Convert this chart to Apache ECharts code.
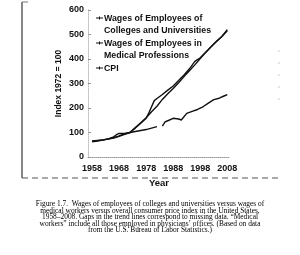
<!DOCTYPE html>
<html>
<head>
<meta charset="utf-8">
<script src="https://cdn.jsdelivr.net/npm/echarts@6/dist/echarts.min.js"></script>
<style>
html,body{margin:0;padding:0;background:#fff;}
#chart{width:300px;height:255px;}
</style>
</head>
<body>
<div id="chart"></div>
<script>
// ---- data ----
const xTickLabels = [1958, 1968, 1978, 1988, 1998, 2008];
const yTickLabels = [0, 100, 200, 300, 400, 500, 600];

const seriesNames = [
  'Wages of Employees of\nColleges and Universities',
  'Wages of Employees in\nMedical Professions',
  'CPI'
];

const cpiYears  = [1958,1960,1962,1964,1966,1968,1970,1972,1974,1976,1978,1979,1980,1981,1982,1984,1986,1988,1990,1992,1994,1996,1998,2000,2002,2004,2006,2008];
const cpiValues = [66,68,70,73,77,84,92,100,118,138,158,180,205,230,239,255,273,290,312,335,360,390,405,428,450,471,492,520];

const medYears  = [1958,1960,1962,1964,1966,1968,1970,1972,1974,1976,1978,1980,1982,1984,1986,1988,1990,1992,1994,1996,1998,2000,2002,2004,2006,2008];
const medValues = [64,67,70,74,79,86,94,100,120,140,160,185,207,235,258,280,303,328,352,376,402,426,450,472,492,515];

const colYears  = [1958,1960,1962,1964,1966,1967,1968,1970,1972,1974,1976,1978,1980,1982,1983,1984,1985,1986,1988,1990,1991,1993,1995,1997,1999,2001,2003,2005,2007,2008];
const colValues = [62,65,69,74,82,91,96,96,100,104,108,112,118,124,null,126,143,148,158,155,151,178,186,194,205,220,234,240,250,255];

const captionLines = [
  'Figure 1.7.  Wages of employees of colleges and universities versus wages of',
  'medical workers versus overall consumer price index in the United States,',
  '1958–2008. Gaps in the trend lines correspond to missing data. “Medical',
  'workers” include all those employed in physicians’ offices. (Based on data',
  'from the U.S. Bureau of Labor Statistics.)'
];

function pairs(xs, ys) { return xs.map((x, i) => [x, ys[i]]); }

const chart = echarts.init(document.getElementById('chart'), null, {renderer: 'canvas'});

const lineStyle = {color: '#111', width: 1.4};
const tickFont = {fontFamily: 'Liberation Sans', fontWeight: 'bold', fontSize: 9, color: '#111'};

const legendItems = [];
const legendTop = [18, 43, 68];
seriesNames.forEach((n, i) => {
  legendItems.push({
    type: 'line', shape: {x1: 96, y1: legendTop[i], x2: 103, y2: legendTop[i]},
    style: {stroke: '#111', lineWidth: 1}
  });
  legendItems.push({
    type: 'line', shape: {x1: 99.5, y1: legendTop[i] - 1.5, x2: 99.5, y2: legendTop[i] + 1.5},
    style: {stroke: '#111', lineWidth: 1}
  });
  legendItems.push({
    type: 'text', x: 104, y: legendTop[i] - 6,
    style: {text: n, fontFamily: 'Liberation Sans', fontWeight: 'bold', fontSize: 8.8,
            lineHeight: 12.5, fill: '#111', textVerticalAlign: 'top'}
  });
});

const captionItems = captionLines.map((t, i) => ({
  type: 'text', x: 150, y: 204.5 + i * 6.4,
  style: {text: t, fontFamily: 'Liberation Serif', fontSize: 7.4,
          fill: '#000', textAlign: 'center', textVerticalAlign: 'middle'}
}));

const frameItems = [
  {type: 'line', shape: {x1: 22, y1: 2, x2: 22, y2: 178}, style: {stroke: '#444', lineWidth: 1.3}},
  {type: 'line', shape: {x1: 22, y1: 2, x2: 28, y2: 2}, style: {stroke: '#777', lineWidth: 1}},
  {type: 'line', shape: {x1: 22, y1: 178, x2: 280, y2: 178}, style: {stroke: '#555', lineWidth: 1, lineDash: [6, 4]}},
  {type: 'line', shape: {x1: 279, y1: 50, x2: 279, y2: 100}, style: {stroke: '#ccc', lineWidth: 1, lineDash: [2, 10]}}
];

chart.setOption({
  animation: false,
  backgroundColor: '#fff',
  grid: {left: 88, right: 70, top: 10, bottom: 98, containLabel: false},
  xAxis: {
    type: 'value', min: 1956.5, max: 2009,
    name: 'Year', nameLocation: 'middle', nameGap: 19,
    nameTextStyle: {fontFamily: 'Liberation Sans', fontWeight: 'bold', fontSize: 9.5, color: '#111'},
    axisLine: {show: true, lineStyle: {color: '#999', type: 'dotted', width: 1}},
    axisTick: {show: false},
    splitLine: {show: false},
    axisLabel: Object.assign({customValues: xTickLabels, margin: 7, formatter: v => String(v)}, tickFont)
  },
  yAxis: {
    type: 'value', min: 0, max: 600, interval: 100,
    name: 'Index 1972 = 100', nameLocation: 'middle', nameGap: 25, nameRotate: 90,
    nameTextStyle: {fontFamily: 'Liberation Sans', fontWeight: 'bold', fontSize: 8.5, color: '#111'},
    axisLine: {show: true, lineStyle: {color: '#bbb', type: 'dotted', width: 1}},
    axisTick: {show: true, length: 3, inside: true, lineStyle: {color: '#999'}},
    splitLine: {show: false},
    axisLabel: Object.assign({margin: 4, formatter: v => String(v)}, tickFont)
  },
  graphic: frameItems.concat(legendItems, captionItems),
  series: [
    {name: seriesNames[0], type: 'line', data: pairs(colYears, colValues), symbol: 'none',
     connectNulls: false, lineStyle: lineStyle, itemStyle: {color: '#111'}},
    {name: seriesNames[1], type: 'line', data: pairs(medYears, medValues), symbol: 'none',
     lineStyle: lineStyle, itemStyle: {color: '#111'}},
    {name: seriesNames[2], type: 'line', data: pairs(cpiYears, cpiValues), symbol: 'none',
     lineStyle: lineStyle, itemStyle: {color: '#111'}}
  ]
});
</script>
</body>
</html>
